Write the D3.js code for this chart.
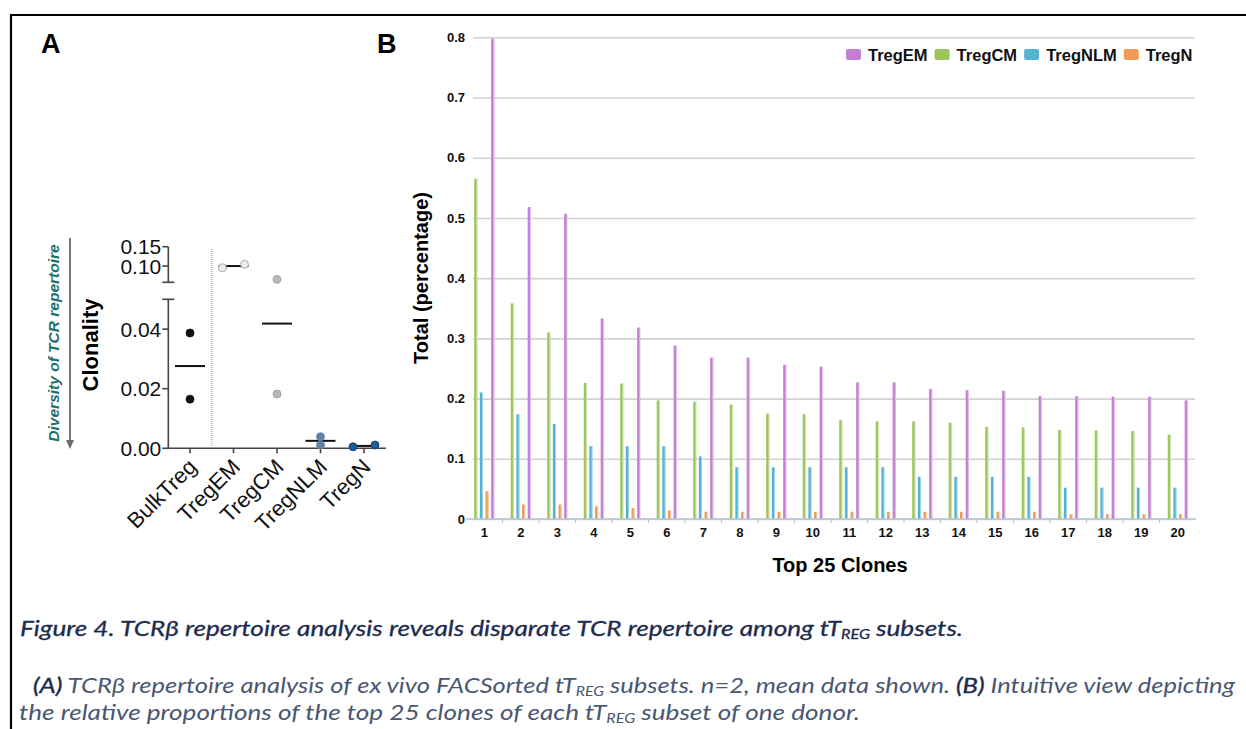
<!DOCTYPE html>
<html>
<head>
<meta charset="utf-8"/>
<script src="https://d3js.org/d3.v7.min.js"></script>
<style>
  body { margin:0; background:#fff; }
  svg text { font-family: "Liberation Sans", Arial, sans-serif; }
</style>
</head>
<body>
<svg id="fig" width="1246" height="729"></svg>
<script>
// ---- panel A data (clonality, two donors) ----
let groups = ["BulkTreg", "TregEM", "TregCM", "TregNLM", "TregN"];
let donor1 = [0.0387, 0.0956, 0.0655, 0.0039, 0.0005];
let donor2 = [0.0165, 0.1044, 0.0182, 0.0011, 0.0011];
let groupFill = ["#111111", "#ececec", "#b8b8b8", "#5f82a6", "#1d5b97"];
let groupStroke = ["#111111", "#9a9a9a", "#9a9a9a", "#5f82a6", "#0e3a66"];
let lowTicks = [0, 0.02, 0.04];
let highTicks = [0.10, 0.15];

// ---- panel B data (top clones, one donor) ----
let clones = [1, 2, 3, 4, 5, 6, 7, 8, 9, 10, 11, 12, 13, 14, 15, 16, 17, 18, 19, 20];
let tregEM  = [0.798, 0.518, 0.507, 0.333, 0.318, 0.288, 0.268, 0.268, 0.256, 0.253,
               0.227, 0.227, 0.216, 0.214, 0.213, 0.204, 0.204, 0.203, 0.203, 0.197];
let tregCM  = [0.565, 0.358, 0.310, 0.226, 0.225, 0.197, 0.195, 0.190, 0.175, 0.174,
               0.164, 0.162, 0.162, 0.160, 0.153, 0.152, 0.148, 0.147, 0.146, 0.140];
let tregNLM = [0.210, 0.174, 0.158, 0.121, 0.121, 0.121, 0.104, 0.086, 0.086, 0.086,
               0.086, 0.086, 0.070, 0.070, 0.070, 0.070, 0.052, 0.052, 0.052, 0.052];
let tregN   = [0.046, 0.024, 0.024, 0.021, 0.018, 0.014, 0.012, 0.012, 0.012, 0.012,
               0.012, 0.012, 0.012, 0.012, 0.012, 0.012, 0.008, 0.008, 0.008, 0.008];
let barOrder = ["TregCM", "TregNLM", "TregN", "TregEM"];
let legendOrder = ["TregEM", "TregCM", "TregNLM", "TregN"];
let seriesColor = {TregEM: "#c37fd2", TregCM: "#9dc65a", TregNLM: "#52b4d0", TregN: "#f29b56"};
let yTicksB = [0, 0.1, 0.2, 0.3, 0.4, 0.5, 0.6, 0.7, 0.8];

let seriesValues = {TregEM: tregEM, TregCM: tregCM, TregNLM: tregNLM, TregN: tregN};

let svg = d3.select("#fig");

// frame
svg.append("path")
    .attr("d", "M 11 740 V 15 H 1260")
    .attr("fill", "none")
    .attr("stroke", "#000")
    .attr("stroke-width", 2.2);

// panel letters
svg.append("text").text("A").attr("x", 41).attr("y", 53)
    .style("font-size", "27px").style("font-weight", "bold");
svg.append("text").text("B").attr("x", 377).attr("y", 53)
    .style("font-size", "27px").style("font-weight", "bold");

// ================= PANEL A =================
let axX = 168.3;
let yLow = d3.scaleLinear().domain([0, 0.05]).range([448.3, 299.3]);
let yHigh = d3.scaleLinear().domain([0.058, 0.15]).range([282.3, 246.7]);
function yA(v) { return v <= 0.05 ? yLow(v) : yHigh(v); }
let xA = d3.scalePoint().domain(groups).range([190, 364]);
let pa = svg.append("g");
let axisCol = "#444";

// y axis: lower segment
pa.append("line").attr("x1", axX).attr("x2", axX)
    .attr("y1", yLow(0.05)).attr("y2", yLow(0))
    .attr("stroke", axisCol).attr("stroke-width", 1.6);
// y axis: upper segment
pa.append("line").attr("x1", axX).attr("x2", axX)
    .attr("y1", yHigh(0.15)).attr("y2", yHigh(0.058))
    .attr("stroke", axisCol).attr("stroke-width", 1.6);
// break caps
[yLow(0.05), yHigh(0.058)].forEach(function(yy) {
    pa.append("line").attr("x1", axX - 6).attr("x2", axX + 6)
        .attr("y1", yy).attr("y2", yy)
        .attr("stroke", axisCol).attr("stroke-width", 1.6);
});
// ticks + labels
lowTicks.map(function(t) { return [t, yLow(t)]; })
    .concat(highTicks.map(function(t) { return [t, yHigh(t)]; }))
    .forEach(function(d) {
        pa.append("line").attr("x1", axX - 6).attr("x2", axX)
            .attr("y1", d[1]).attr("y2", d[1])
            .attr("stroke", axisCol).attr("stroke-width", 1.6);
        pa.append("text").text(d3.format(".2f")(d[0]))
            .attr("x", axX - 7).attr("y", d[1])
            .attr("dy", "0.36em")
            .attr("text-anchor", "end")
            .style("font-size", "21px").style("fill", "#111");
    });

// x axis
pa.append("line").attr("x1", axX).attr("x2", 386)
    .attr("y1", yLow(0)).attr("y2", yLow(0))
    .attr("stroke", axisCol).attr("stroke-width", 1.6);
groups.forEach(function(g) {
    pa.append("line").attr("x1", xA(g)).attr("x2", xA(g))
        .attr("y1", yLow(0)).attr("y2", yLow(0) + 5)
        .attr("stroke", axisCol).attr("stroke-width", 1.6);
    pa.append("text").text(g)
        .attr("text-anchor", "end")
        .attr("transform", "translate(" + (xA(g) - 3) + "," + (yLow(0) + 9) + ") rotate(-45)")
        .attr("dy", "0.7em")
        .style("font-size", "22px").style("fill", "#111");
});

// dotted separator after BulkTreg
let sepX = (xA(groups[0]) + xA(groups[1])) / 2;
pa.append("line").attr("x1", sepX).attr("x2", sepX)
    .attr("y1", 249).attr("y2", yLow(0))
    .attr("stroke", "#999").attr("stroke-width", 1)
    .attr("stroke-dasharray", "1,1");

// points and means
let r = 4;
groups.forEach(function(g, i) {
    let vals = [donor1[i], donor2[i]];
    let ys = vals.map(yA);
    let spread = Math.abs(ys[0] - ys[1]) < 1.5 * r ? 11 : 0;
    let meanV = d3.mean(vals);
    pa.append("line")
        .attr("x1", xA(g) - 15).attr("x2", xA(g) + 15)
        .attr("y1", yA(meanV)).attr("y2", yA(meanV))
        .attr("stroke", "#111").attr("stroke-width", 2);
    vals.forEach(function(v, k) {
        pa.append("circle")
            .attr("cx", xA(g) + (k === 0 ? -spread : spread))
            .attr("cy", yA(v))
            .attr("r", r)
            .attr("fill", groupFill[i])
            .attr("stroke", groupStroke[i])
            .attr("stroke-width", 0.8);
    });
});

// axis title
pa.append("text").text("Clonality")
    .attr("transform", "translate(98,345) rotate(-90)")
    .attr("text-anchor", "middle")
    .style("font-size", "22px").style("font-weight", "bold");

// diversity arrow
pa.append("line").attr("x1", 70).attr("x2", 70)
    .attr("y1", 238).attr("y2", 442)
    .attr("stroke", "#6b6b6b").attr("stroke-width", 1.8);
pa.append("path").attr("d", "M 66 440 L 74 440 L 70 449 Z").attr("fill", "#6b6b6b");
pa.append("text").text("Diversity of TCR repertoire")
    .attr("transform", "translate(59,343) rotate(-90)")
    .attr("text-anchor", "middle")
    .style("font-size", "15.5px").style("font-style", "italic").style("font-weight", "bold")
    .style("fill", "#1c6f6c");

// ================= PANEL B =================
let bLeft = 473, bRight = 1195;
let yB = d3.scaleLinear().domain([0, 0.8]).range([519, 37.3]);
let x0 = d3.scaleBand().domain(clones).range([466, 1196]).paddingInner(0.45).paddingOuter(0.225);
let x1 = d3.scaleBand().domain(barOrder).range([0, x0.bandwidth()]).paddingInner(0.45);
let pb = svg.append("g");

// gridlines + y labels
pb.append("g")
    .attr("transform", "translate(" + bLeft + ",0)")
    .call(d3.axisLeft(yB).tickValues(yTicksB).tickSize(-(bRight - bLeft)).tickPadding(8)
        .tickFormat(function(d) { return d === 0 ? "0" : d3.format(".1f")(d); }))
    .call(function(g) {
        g.select(".domain").remove();
        g.selectAll(".tick line").attr("stroke", "#d2d2d2").attr("stroke-width", 1.6);
        g.selectAll(".tick text").style("font-size", "13px").style("font-weight", "bold")
            .style("fill", "#111").style("font-family", "Liberation Sans, Arial, sans-serif");
    });

// bars
clones.forEach(function(c, i) {
    barOrder.forEach(function(s) {
        let v = seriesValues[s][i];
        let bx = x0(c) + x1(s);
        pb.append("rect")
            .attr("x", bx).attr("y", yB(v))
            .attr("width", x1.bandwidth()).attr("height", yB(0) - yB(v))
            .attr("fill", seriesColor[s]);
        pb.append("rect")
            .attr("x", bx + x1.bandwidth() - 1).attr("y", yB(v))
            .attr("width", 1).attr("height", yB(0) - yB(v))
            .attr("fill", "#fff").attr("opacity", 0.45);
    });
});

// x axis
pb.append("line").attr("x1", 466).attr("x2", 1196)
    .attr("y1", yB(0)).attr("y2", yB(0))
    .attr("stroke", "#b4c3d6").attr("stroke-width", 1.6);
clones.forEach(function(c, i) {
    if (i > 0) {
        let tx = x0(c) - x0.step() * x0.paddingInner() / 2;
        pb.append("line").attr("x1", tx).attr("x2", tx)
            .attr("y1", yB(0)).attr("y2", yB(0) + 4)
            .attr("stroke", "#b4c3d6").attr("stroke-width", 1.2);
    }
    pb.append("text").text(c)
        .attr("x", x0(c) + x0.bandwidth() / 2).attr("y", 537)
        .attr("text-anchor", "middle")
        .style("font-size", "13px").style("font-weight", "bold").style("fill", "#111");
});

pb.append("text").text("Top 25 Clones")
    .attr("x", 840).attr("y", 572)
    .attr("text-anchor", "middle")
    .style("font-size", "20px").style("font-weight", "bold");
pb.append("text").text("Total (percentage)")
    .attr("transform", "translate(428,278) rotate(-90)")
    .attr("text-anchor", "middle")
    .style("font-size", "20px").style("font-weight", "bold");

// legend
let lx = 846;
legendOrder.forEach(function(s) {
    pb.append("rect").attr("x", lx).attr("y", 49).attr("width", 15).attr("height", 11)
        .attr("rx", 2).attr("fill", seriesColor[s]);
    let t = pb.append("text").text(s)
        .attr("x", lx + 22).attr("y", 60.5)
        .style("font-size", "16.5px").style("font-weight", "bold").style("fill", "#111");
    lx = lx + 22 + t.node().getComputedTextLength() + 7;
});

// ================= CAPTION =================
let cap = svg.append("g").style("font-style", "italic");
function capLine(parts, x, y, len, col, thick) {
    let t = cap.append("text").attr("x", x).attr("y", y)
        .attr("textLength", len).attr("lengthAdjust", "spacingAndGlyphs")
        .style("font-family", "Lato, 'Open Sans', sans-serif")
        .style("font-size", "21px").style("fill", col);
    if (thick) t.style("stroke", col).style("stroke-width", 0.3);
    parts.forEach(function(p) {
        let ts = t.append("tspan").text(p.t);
        if (p.sub) ts.style("font-size", "13px").attr("dy", p.dy);
        if (p.back) ts.attr("dy", p.back);
        if (p.bold) ts.style("fill", "#1e2b4f").style("stroke", "#1e2b4f").style("stroke-width", 0.4);
    });
}
capLine([
    {t: "Figure 4. TCR\u03b2 repertoire analysis reveals disparate TCR repertoire among tT"},
    {t: "REG", sub: true, dy: 3},
    {t: " subsets.", back: -3}
], 20, 636, 943, "#1e2b4f", true);
capLine([
    {t: "(A)", bold: true},
    {t: " TCR\u03b2 repertoire analysis of ex vivo FACSorted tT"},
    {t: "REG", sub: true, dy: 3},
    {t: " subsets. n=2, mean data shown. ", back: -3},
    {t: "(B)", bold: true},
    {t: " Intuitive view depicting"}
], 33, 693, 1202, "#4a5772", false);
capLine([
    {t: "the relative proportions of the top 25 clones of each tT"},
    {t: "REG", sub: true, dy: 3},
    {t: " subset of one donor.", back: -3}
], 19, 720, 841, "#4a5772", false);
</script>
</body>
</html>
